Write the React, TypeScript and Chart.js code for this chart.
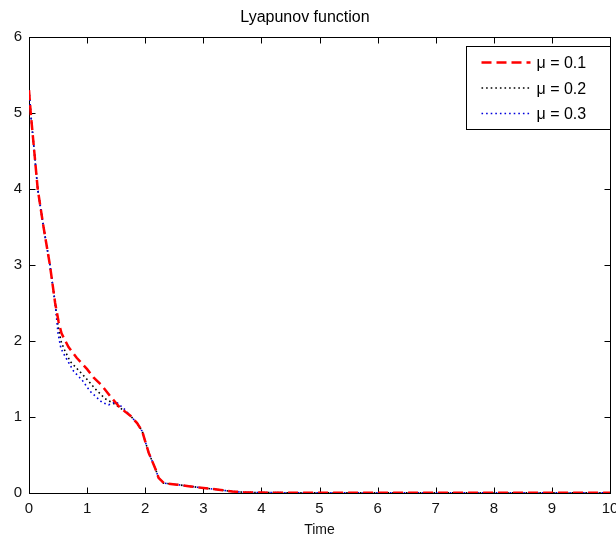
import React, { useEffect, useRef } from "react";
import { Chart, registerables } from "chart.js";

Chart.register(...registerables);

// ---------------- data ----------------
const xTickValues = [0, 1, 2, 3, 4, 5, 6, 7, 8, 9, 10];
const yTickValues = [0, 1, 2, 3, 4, 5, 6];

const seriesLabels = ["\u03bc = 0.1", "\u03bc = 0.2", "\u03bc = 0.3"];

const time01 = [0, 0.03, 0.09, 0.15, 0.25, 0.36, 0.45, 0.51, 0.56, 0.68, 0.82, 1.0, 1.11, 1.26, 1.4, 1.57, 1.74, 1.86, 1.95, 2.0, 2.06, 2.12, 2.18, 2.23, 2.32, 2.55, 2.78, 3.0, 3.3, 3.5, 3.7, 4.0, 5, 6, 7, 8, 9, 10];
const lyap01 = [5.3, 5.0, 4.5, 4.0, 3.5, 3.0, 2.5, 2.25, 2.1, 1.92, 1.78, 1.63, 1.52, 1.41, 1.27, 1.12, 1.02, 0.92, 0.81, 0.68, 0.53, 0.42, 0.31, 0.2, 0.13, 0.11, 0.087, 0.066, 0.04, 0.02, 0.01, 0.005, 0.003, 0.002, 0.002, 0.002, 0.002, 0.002];

const time02 = [0, 0.03, 0.09, 0.15, 0.25, 0.36, 0.45, 0.5, 0.55, 0.6, 0.71, 0.97, 1.14, 1.31, 1.45, 1.57, 1.74, 1.86, 1.95, 2.0, 2.06, 2.12, 2.18, 2.23, 2.32, 2.55, 2.78, 3.0, 3.3, 3.5, 3.7, 4.0, 5, 6, 7, 8, 9, 10];
const lyap02 = [5.3, 5.0, 4.5, 4.0, 3.5, 3.0, 2.5, 2.2, 2.0, 1.9, 1.73, 1.52, 1.37, 1.24, 1.18, 1.12, 1.02, 0.92, 0.81, 0.68, 0.53, 0.42, 0.31, 0.2, 0.13, 0.11, 0.087, 0.066, 0.04, 0.02, 0.01, 0.005, 0.003, 0.002, 0.002, 0.002, 0.002, 0.002];

const time03 = [0, 0.03, 0.09, 0.15, 0.25, 0.36, 0.45, 0.5, 0.55, 0.62, 0.77, 0.91, 1.05, 1.26, 1.37, 1.5, 1.66, 1.74, 1.86, 1.95, 2.0, 2.06, 2.12, 2.18, 2.23, 2.32, 2.55, 2.78, 3.0, 3.3, 3.5, 3.7, 4.0, 5, 6, 7, 8, 9, 10];
const lyap03 = [5.3, 5.0, 4.5, 4.0, 3.5, 3.0, 2.5, 2.1, 1.9, 1.8, 1.6, 1.49, 1.34, 1.19, 1.16, 1.2, 1.09, 1.02, 0.92, 0.81, 0.68, 0.53, 0.42, 0.31, 0.2, 0.13, 0.11, 0.087, 0.066, 0.04, 0.02, 0.01, 0.005, 0.003, 0.002, 0.002, 0.002, 0.002, 0.002];

const FONT = "'Liberation Sans', Arial, Helvetica, sans-serif";

const toPoints = (xs: number[], ys: number[]) => xs.map((x, i) => ({ x, y: ys[i] }));

// frame with inward ticks on all four sides (MATLAB style)
const framePlugin = {
  id: "matlabFrame",
  beforeDatasetsDraw(chart: any) {
    const { ctx, chartArea: a, scales } = chart;
    const L = 6;
    ctx.save();
    ctx.strokeStyle = "#000";
    ctx.lineWidth = 1;
    const left = Math.round(a.left) + 0.5;
    const right = Math.round(a.right) + 0.5;
    const top = Math.round(a.top) + 0.5;
    const bottom = Math.round(a.bottom) + 0.5;
    ctx.strokeRect(left, top, right - left, bottom - top);
    ctx.beginPath();
    scales.x.ticks.forEach((t: any) => {
      const px = Math.round(scales.x.getPixelForValue(t.value)) + 0.5;
      ctx.moveTo(px, bottom);
      ctx.lineTo(px, bottom - L);
      ctx.moveTo(px, top);
      ctx.lineTo(px, top + L);
    });
    scales.y.ticks.forEach((t: any) => {
      const py = Math.round(scales.y.getPixelForValue(t.value)) + 0.5;
      ctx.moveTo(left, py);
      ctx.lineTo(left + L, py);
      ctx.moveTo(right, py);
      ctx.lineTo(right - L, py);
    });
    ctx.stroke();
    ctx.restore();
  },
};

// boxed legend in the upper right corner
const legendPlugin = {
  id: "matlabLegend",
  afterDatasetsDraw(chart: any) {
    const { ctx, chartArea: a } = chart;
    const w = 144;
    const h = 83;
    const x0 = Math.round(a.right) - w + 0.5;
    const y0 = Math.round(a.top) + 9.5;
    ctx.save();
    ctx.fillStyle = "#fff";
    ctx.fillRect(x0, y0, w, h);
    ctx.strokeStyle = "#000";
    ctx.lineWidth = 1;
    ctx.setLineDash([]);
    ctx.strokeRect(x0, y0, w, h);
    const rows = [16, 41.5, 67];
    chart.data.datasets.forEach((ds: any, i: number) => {
      const y = y0 + rows[i];
      ctx.save();
      ctx.strokeStyle = ds.borderColor;
      ctx.lineWidth = ds.borderWidth;
      ctx.setLineDash(ds.borderDash || []);
      ctx.beginPath();
      ctx.moveTo(x0 + 15, y);
      ctx.lineTo(x0 + 64, y);
      ctx.stroke();
      ctx.restore();
      ctx.fillStyle = "#000";
      ctx.font = `16px ${FONT}`;
      ctx.textBaseline = "middle";
      ctx.textAlign = "left";
      ctx.fillText(ds.label, x0 + 70, y + 1.5);
    });
    ctx.restore();
  },
};

export default function App() {
  const canvasRef = useRef<HTMLCanvasElement | null>(null);

  useEffect(() => {
    if (!canvasRef.current) return;
    const chart = new Chart(canvasRef.current, {
      type: "line",
      data: {
        datasets: [
          {
            label: seriesLabels[0],
            data: toPoints(time01, lyap01),
            borderColor: "#ff0000",
            borderWidth: 2.5,
            borderDash: [10, 5],
            pointRadius: 0,
            tension: 0,
            order: 0,
          },
          {
            label: seriesLabels[1],
            data: toPoints(time02, lyap02),
            borderColor: "#000000",
            borderWidth: 1.6,
            borderDash: [1.6, 3],
            pointRadius: 0,
            tension: 0,
            order: 2,
          },
          {
            label: seriesLabels[2],
            data: toPoints(time03, lyap03),
            borderColor: "#0000dd",
            borderWidth: 1.6,
            borderDash: [1.6, 3],
            pointRadius: 0,
            tension: 0,
            order: 1,
          },
        ],
      },
      options: {
        responsive: false,
        animation: false,
        layout: { padding: { left: 0, right: 6, top: 0, bottom: 0 } },
        plugins: {
          legend: { display: false },
          tooltip: { enabled: false },
          title: {
            display: true,
            text: "Lyapunov function",
            color: "#000",
            font: { family: FONT, size: 16, weight: "normal" },
            padding: { top: 8, bottom: 9.8 },
          },
        },
        scales: {
          x: {
            type: "linear",
            min: 0,
            max: 10,
            afterBuildTicks: (scale: any) => {
              scale.ticks = xTickValues.map((v) => ({ value: v }));
            },
            afterFit: (scale: any) => {
              scale.height = 50;
              scale.paddingLeft = 0;
              scale.paddingRight = 0;
            },
            grid: { display: false, drawTicks: false },
            border: { display: false },
            ticks: {
              color: "#111",
              font: { family: FONT, size: 15 },
              padding: 7,
              maxRotation: 0,
              autoSkip: false,
            },
            title: {
              display: true,
              text: "Time",
              color: "#111",
              font: { family: FONT, size: 14 },
              padding: { top: 0, bottom: 4 },
            },
          },
          y: {
            type: "linear",
            min: 0,
            max: 6,
            afterBuildTicks: (scale: any) => {
              scale.ticks = yTickValues.map((v) => ({ value: v }));
            },
            afterFit: (scale: any) => {
              scale.width = 29;
              scale.paddingTop = 0;
              scale.paddingBottom = 0;
            },
            grid: { display: false, drawTicks: false },
            border: { display: false },
            ticks: {
              color: "#111",
              font: { family: FONT, size: 15 },
              padding: 7,
              autoSkip: false,
            },
          },
        },
      },
      plugins: [framePlugin, legendPlugin],
    } as any);
    return () => chart.destroy();
  }, []);

  return (
    <div style={{ position: "absolute", left: 0, top: 0, width: 616, height: 543, background: "#fff" }}>
      <canvas ref={canvasRef} width={616} height={543} style={{ display: "block" }} />
    </div>
  );
}
